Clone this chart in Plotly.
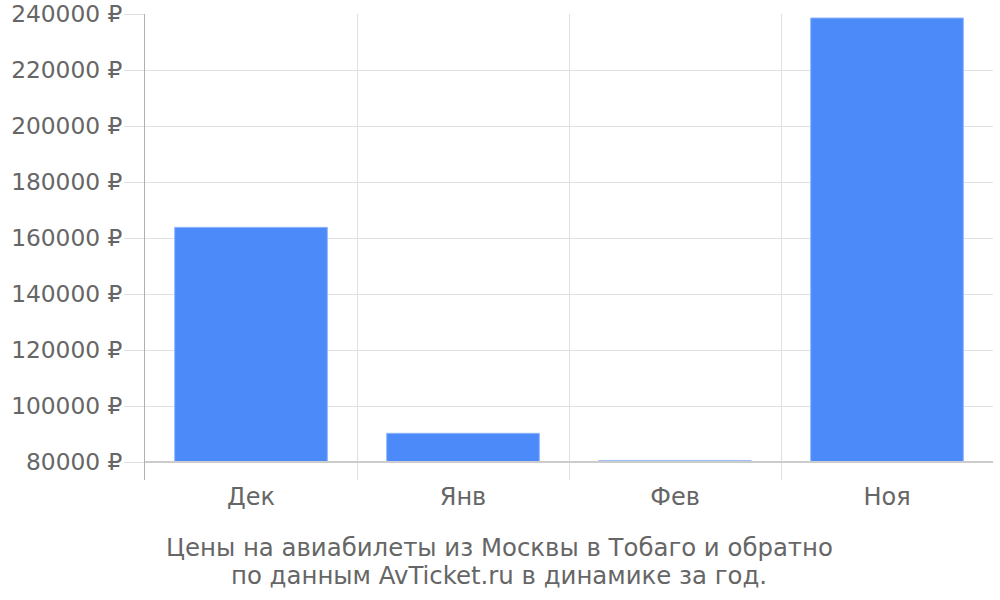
import plotly.graph_objects as go

categories = ["Дек", "Янв", "Фев", "Ноя"]
prices = [163800, 90250, 80450, 238570]
base_price = 80000
y_ticks = [80000, 100000, 120000, 140000, 160000, 180000, 200000, 220000, 240000]
caption_lines = ["Цены на авиабилеты из Москвы в Тобаго и обратно",
                 "по данным AvTicket.ru в динамике за год."]

FONT = "DejaVu Sans"
TXT = "#666666"
GRID = "#e0e0e0"

fig = go.Figure()
fig.add_trace(go.Bar(
    x=categories,
    y=[p - base_price for p in prices],
    base=base_price,
    marker=dict(color="#4c8af9", line=dict(color="#8fb4f8", width=1)),
    width=0.72,
    hoverinfo="skip",
))

fig.add_shape(type="line", xref="paper", yref="y", x0=0, x1=1, y0=base_price, y1=base_price,
              line=dict(color="#cccccc", width=2), layer="above")

fig.update_layout(
    width=1000, height=600,
    margin=dict(l=145, r=7, t=14, b=120),
    paper_bgcolor="white", plot_bgcolor="white",
    font=dict(family=FONT, size=24, color=TXT),
    showlegend=False,
    xaxis=dict(
        type="category",
        range=[-0.5, 3.5],
        tickson="boundaries",
        showgrid=True, gridcolor=GRID, gridwidth=1,
        ticks="", showline=False, zeroline=False,
        automargin=False,
        tickfont=dict(family=FONT, size=24, color=TXT),
    ),
    yaxis=dict(
        range=[73570, 240000],
        tickvals=y_ticks,
        ticktext=[f"{v} ₽" for v in y_ticks],
        showgrid=True, gridcolor=GRID, gridwidth=1,
        ticks="outside", ticklen=20, tickcolor=GRID, tickwidth=1,
        showline=True, linecolor="#b0b0b0", linewidth=1,
        zeroline=False,
        automargin=False,
        ticklabeloverflow="allow",
        ticklabelstandoff=-3,
        tickfont=dict(family=FONT, size=23.3, color=TXT),
    ),
    annotations=[
        dict(text=caption_lines[0], xref="paper", yref="paper", x=0.4175, y=-0.1438,
             xanchor="center", yanchor="middle", showarrow=False,
             font=dict(family=FONT, size=24.4, color=TXT)),
        dict(text=caption_lines[1], xref="paper", yref="paper", x=0.4175, y=-0.206,
             xanchor="center", yanchor="middle", showarrow=False,
             font=dict(family=FONT, size=24.4, color=TXT)),
    ],
)

fig.write_html("out.html", config={"displayModeBar": False},
               post_script="document.body.style.margin='0';")
